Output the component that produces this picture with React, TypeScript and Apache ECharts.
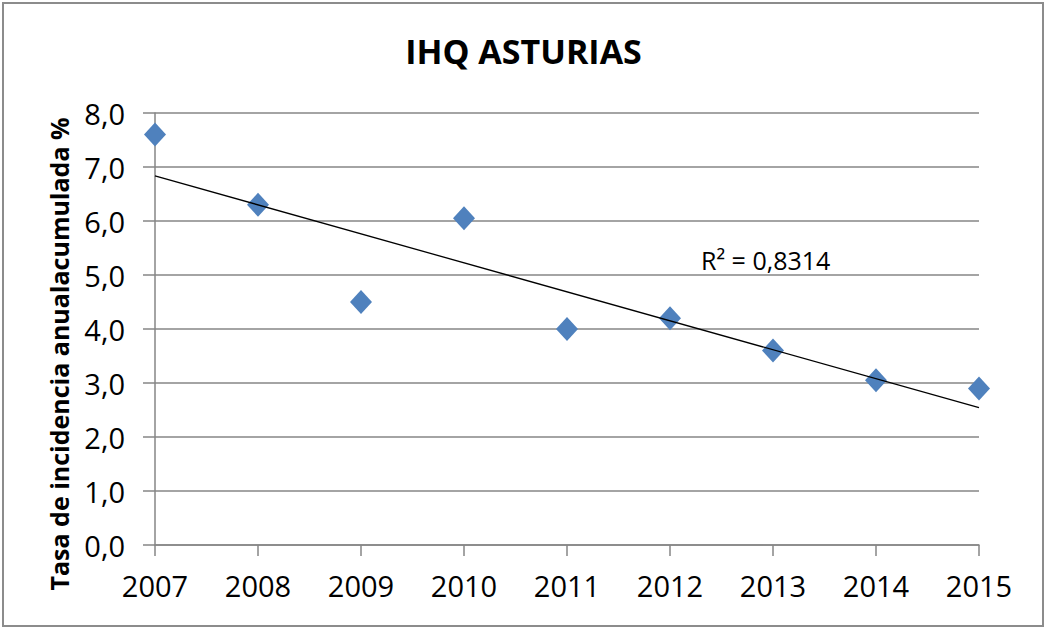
import React, { useEffect, useRef } from "react";
import * as echarts from "echarts";

const years = [2007, 2008, 2009, 2010, 2011, 2012, 2013, 2014, 2015];
const rates = [7.6, 6.3, 4.5, 6.05, 4.0, 4.2, 3.6, 3.05, 2.9];
const r2Label = "R² = 0,8314";
const titleText = "IHQ ASTURIAS";
const yAxisTitle = "Tasa de incidencia anualacumulada %";
const yTicks = [0, 1, 2, 3, 4, 5, 6, 7, 8];

function linearFit(xs: number[], ys: number[]) {
  const n = xs.length;
  const mx = xs.reduce((a, b) => a + b, 0) / n;
  const my = ys.reduce((a, b) => a + b, 0) / n;
  let num = 0;
  let den = 0;
  for (let i = 0; i < n; i++) {
    num += (xs[i] - mx) * (ys[i] - my);
    den += (xs[i] - mx) * (xs[i] - mx);
  }
  const slope = num / den;
  const intercept = my - slope * mx;
  return (x: number) => intercept + slope * x;
}

const FONT = "'Open Sans', 'Noto Sans', sans-serif";

export default function App() {
  const ref = useRef<HTMLDivElement>(null);
  useEffect(() => {
    document.body.style.margin = "0";
    if (!ref.current) return;
    const chart = echarts.init(ref.current, null, { renderer: "svg" });
    const fit = linearFit(years, rates);
    const x0 = years[0];
    const x1 = years[years.length - 1];
    chart.setOption({
      animation: false,
      backgroundColor: "#ffffff",
      title: {
        text: titleText,
        left: "center",
        top: 29,
        textStyle: { fontFamily: FONT, fontSize: 34, fontWeight: "bold", color: "#000" },
      },
      grid: { left: 155, right: 68, top: 113, bottom: 85, containLabel: false },
      xAxis: {
        type: "value",
        min: 2007,
        max: 2015,
        interval: 1,
        axisLine: { show: true, lineStyle: { color: "#868686", width: 1.5 } },
        axisTick: { show: true, length: 11, lineStyle: { color: "#868686", width: 1.5 } },
        splitLine: { show: false },
        axisLabel: {
          formatter: (v: number) => String(v),
          fontFamily: FONT,
          fontSize: 29,
          color: "#000",
          margin: 26,
        },
      },
      yAxis: {
        type: "value",
        min: yTicks[0],
        max: yTicks[yTicks.length - 1],
        interval: 1,
        axisLine: { show: true, lineStyle: { color: "#868686", width: 1.5 } },
        axisTick: { show: true, length: 12, lineStyle: { color: "#868686", width: 1.5 } },
        splitLine: { show: true, lineStyle: { color: "#868686", width: 1.5 } },
        axisLabel: {
          formatter: (v: number) => v.toFixed(1).replace(".", ","),
          fontFamily: FONT,
          fontSize: 29,
          color: "#000",
          margin: 30,
        },
      },
      series: [
        {
          type: "scatter",
          data: years.map((y, i) => [y, rates[i]]),
          symbol: "diamond",
          symbolSize: [22, 24],
          itemStyle: { color: "#4f81bd", opacity: 1 },
          z: 3,
        },
        {
          type: "line",
          data: [
            [x0, fit(x0)],
            [x1, fit(x1)],
          ],
          symbol: "none",
          lineStyle: { color: "#000", width: 1.3 },
          z: 4,
        },
      ],
      graphic: [
        {
          type: "rect",
          shape: { x: 3, y: 3, width: 1040, height: 623 },
          style: { fill: "none", stroke: "#8c8c8c", lineWidth: 2 },
          silent: true,
        },
        {
          type: "text",
          x: 59,
          y: 354,
          rotation: Math.PI / 2,
          style: {
            text: yAxisTitle,
            fontFamily: FONT,
            fontSize: 25,
            fontWeight: "bold",
            fill: "#000",
            align: "center",
            verticalAlign: "middle",
          },
        },
        {
          type: "text",
          left: 701,
          top: 247,
          style: { text: r2Label, fontFamily: FONT, fontSize: 25, fill: "#000" },
        },
      ],
    });
    return () => chart.dispose();
  }, []);
  return <div ref={ref} style={{ width: 1047, height: 630 }} />;
}
